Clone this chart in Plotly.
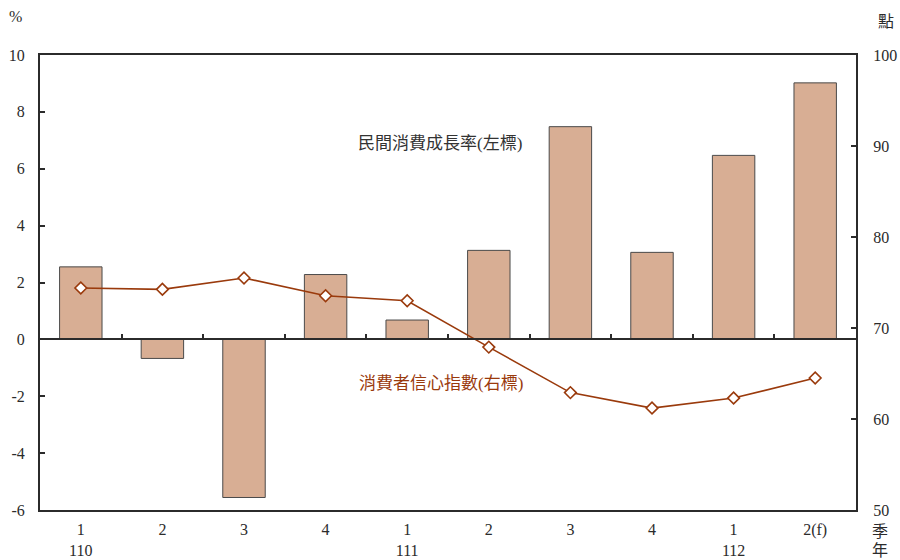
import plotly.graph_objects as go

# Quarter labels (year shown on first quarter of each year)
quarters = ["1", "2", "3", "4", "1", "2", "3", "4", "1", "2(f)"]
years = ["110", "", "", "", "111", "", "", "", "112", ""]

# Private consumption growth rate, % (left axis)
consumption_growth = [2.55, -0.67, -5.56, 2.28, 0.68, 3.13, 7.48, 3.06, 6.47, 9.02]
# Consumer confidence index, points (right axis)
confidence_index = [74.4, 74.25, 75.5, 73.55, 73.0, 67.9, 62.9, 61.2, 62.3, 64.5]

# Axis tick values and labels (plain hyphen for negatives)
left_ticks = [-6, -4, -2, 0, 2, 4, 6, 8, 10]
left_tick_text = ["-6", "-4", "-2", "0", "2", "4", "6", "8", "10"]
right_ticks = [50, 60, 70, 80, 90, 100]

x = list(range(len(quarters)))
tick_text = [q + ("<br>" + y if y else "") for q, y in zip(quarters, years)]

BAR_FILL = "#D8AE94"
BAR_EDGE = "#4a4a4a"
LINE_COL = "#9A3A0C"
AXIS_COL = "#2b2b2b"
FONT = "Liberation Serif, Times New Roman, Noto Sans CJK TC, serif"

W, H = 900, 560
L, R, T, B = 40, 44, 55, 50
ymin, ymax = -6, 10

fig = go.Figure()

fig.add_trace(go.Bar(
    x=x, y=consumption_growth, width=0.52,
    marker=dict(color=BAR_FILL, line=dict(color=BAR_EDGE, width=1)),
    yaxis="y", xaxis="x", showlegend=False, hoverinfo="y",
))

fig.add_trace(go.Scatter(
    x=x, y=confidence_index, mode="lines+markers",
    line=dict(color=LINE_COL, width=1.6),
    marker=dict(symbol="diamond", size=9, color="white",
                line=dict(color=LINE_COL, width=1.6)),
    yaxis="y2", xaxis="x", showlegend=False, hoverinfo="y",
))

# Invisible trace that carries the zero-line axis with its small category ticks
fig.add_trace(go.Scatter(
    x=[x[0]], y=[0], mode="markers", marker=dict(opacity=0),
    xaxis="x2", yaxis="y", showlegend=False, hoverinfo="skip",
))

# Unit labels placed in pixel terms relative to the page edges
pw, ph = W - L - R, H - T - B
def paper_xy(px, py):
    return (px - L) / pw, (H - B - py) / ph

annotations = [
    dict(text="民間消費成長率(左標)", x=4.4, y=6.9, xref="x", yref="y",
         showarrow=False, font=dict(size=17, color="#333333")),
    dict(text="消費者信心指數(右標)", x=4.42, y=63.9, xref="x", yref="y2",
         showarrow=False, font=dict(size=17, color=LINE_COL)),
]
for txt, px, py in [("%", 15, 16), ("點", 886, 21), ("季", 880, 531), ("年", 880, 550)]:
    ax_, ay_ = paper_xy(px, py)
    annotations.append(dict(text=txt, x=ax_, y=ay_, xref="paper", yref="paper",
                            showarrow=False, xanchor="center", yanchor="middle",
                            font=dict(size=16, color=AXIS_COL)))

fig.update_layout(
    width=W, height=H,
    margin=dict(l=L, r=R, t=T, b=B),
    paper_bgcolor="white", plot_bgcolor="white",
    font=dict(family=FONT, size=16, color=AXIS_COL),
    xaxis=dict(
        range=[-0.5, len(x) - 0.5], tickmode="array", tickvals=x, ticktext=tick_text,
        showline=True, linecolor=AXIS_COL, linewidth=2, mirror=True,
        ticks="", showgrid=False, zeroline=False, automargin=False,
        tickfont=dict(size=16), ticklabelstandoff=4,
    ),
    xaxis2=dict(
        range=[-0.5, len(x) - 0.5], overlaying="x", side="top", anchor="free",
        position=(0 - ymin) / (ymax - ymin),
        tickmode="array", tickvals=[i + 0.5 for i in x[:-1]],
        ticks="outside", ticklen=5, tickcolor=AXIS_COL, tickwidth=1.5,
        showticklabels=False, showline=True, linecolor=AXIS_COL, linewidth=1.5,
        showgrid=False, zeroline=False, automargin=False,
    ),
    yaxis=dict(
        range=[ymin, ymax], tickmode="array", tickvals=left_ticks, ticktext=left_tick_text,
        ticks="inside", ticklen=5, tickcolor=AXIS_COL, tickwidth=1.5,
        showline=True, linecolor=AXIS_COL, linewidth=2,
        showgrid=False, zeroline=False, ticklabelstandoff=10, automargin=False,
    ),
    yaxis2=dict(
        range=[50, 100], tickmode="array", tickvals=right_ticks,
        overlaying="y", side="right",
        ticks="inside", ticklen=5, tickcolor=AXIS_COL, tickwidth=1.5,
        showline=True, linecolor=AXIS_COL, linewidth=2,
        showgrid=False, zeroline=False, ticklabelstandoff=12, automargin=False,
    ),
    annotations=annotations,
)

fig.write_html("out.html")
